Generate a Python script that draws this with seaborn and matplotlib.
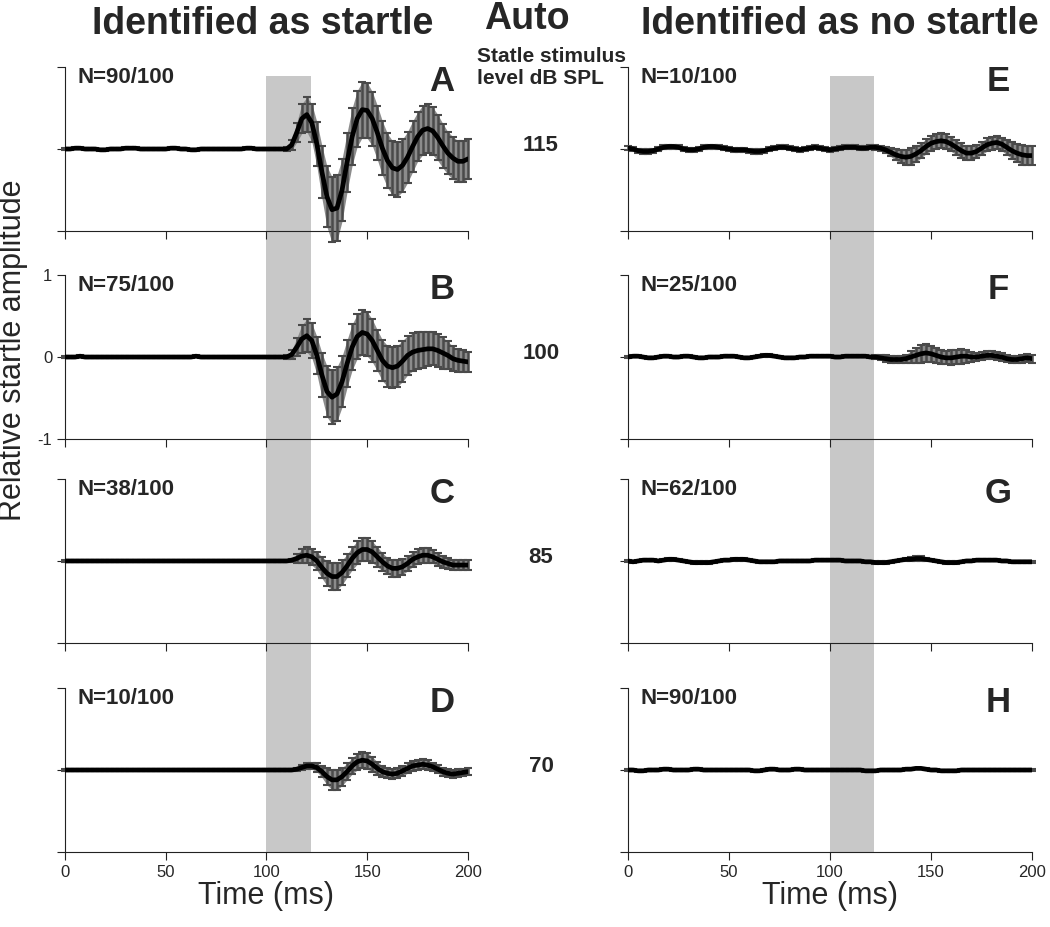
import numpy as np
import matplotlib.pyplot as plt
import matplotlib.transforms as mtransforms
import seaborn as sns

# sampling grid of the averaged traces (ms)
time_ms = np.arange(0, 201, 2.5)

x_ticks = [0, 50, 100, 150, 200]
y_ticks = [-1, 0, 1]
stim_start, stim_end = 100, 122

letters_left = ['A', 'B', 'C', 'D']
letters_right = ['E', 'F', 'G', 'H']
n_left = ['N=90/100', 'N=75/100', 'N=38/100', 'N=10/100']
n_right = ['N=10/100', 'N=25/100', 'N=62/100', 'N=90/100']
levels_db = ['115', '100', '85', '70']

# ---- identified as startle (mean, SE) ----
mean_A = [0.00, 0.00, 0.01, 0.01, 0.00, 0.00, 0.00, -0.01, -0.01, 0.00,
          0.00, 0.00, 0.01, 0.01, 0.01, 0.00, 0.00, 0.00, 0.00, 0.00,
          0.00, 0.01, 0.01, 0.00, 0.00, -0.01, -0.01, 0.00, 0.00, 0.00,
          0.00, 0.00, 0.00, 0.00, 0.00, 0.00, 0.01, 0.01, 0.00, 0.00,
          0.00, 0.00, 0.00, 0.00, 0.00, 0.05, 0.20, 0.37, 0.42, 0.32,
          0.06, -0.28, -0.58, -0.74, -0.72, -0.50, -0.16, 0.15, 0.37, 0.48,
          0.47, 0.37, 0.20, 0.01, -0.14, -0.23, -0.25, -0.20, -0.10, 0.03,
          0.15, 0.23, 0.25, 0.22, 0.14, 0.04, -0.05, -0.11, -0.15, -0.15,
          -0.12]
se_A = [0.01, 0.01, 0.01, 0.01, 0.01, 0.01, 0.01, 0.01, 0.01, 0.01,
        0.01, 0.01, 0.01, 0.01, 0.01, 0.01, 0.01, 0.01, 0.01, 0.01,
        0.01, 0.01, 0.01, 0.01, 0.01, 0.01, 0.01, 0.01, 0.01, 0.01,
        0.01, 0.01, 0.01, 0.01, 0.01, 0.01, 0.01, 0.01, 0.01, 0.01,
        0.01, 0.01, 0.01, 0.01, 0.02, 0.06, 0.12, 0.18, 0.21, 0.23,
        0.27, 0.32, 0.37, 0.40, 0.40, 0.38, 0.36, 0.35, 0.34, 0.34,
        0.34, 0.33, 0.33, 0.33, 0.33, 0.33, 0.33, 0.32, 0.31, 0.31,
        0.30, 0.30, 0.30, 0.29, 0.28, 0.27, 0.26, 0.26, 0.25, 0.25,
        0.24]

mean_B = [0.00, 0.00, 0.00, 0.01, 0.00, 0.00, 0.00, 0.00, 0.00, 0.00,
          0.00, 0.00, 0.00, 0.00, 0.00, 0.00, 0.00, 0.00, 0.00, 0.00,
          0.00, 0.00, 0.00, 0.00, 0.00, 0.00, 0.01, 0.00, 0.00, 0.00,
          0.00, 0.00, 0.00, 0.00, 0.00, 0.00, 0.00, 0.00, 0.00, 0.00,
          0.00, 0.00, 0.00, 0.00, 0.00, 0.03, 0.12, 0.22, 0.26, 0.20,
          0.02, -0.22, -0.42, -0.49, -0.45, -0.30, -0.08, 0.12, 0.25, 0.30,
          0.28, 0.20, 0.08, -0.04, -0.11, -0.13, -0.11, -0.05, 0.02, 0.06,
          0.08, 0.09, 0.10, 0.10, 0.08, 0.05, 0.02, -0.02, -0.04, -0.05,
          -0.06]
se_B = [0.01, 0.01, 0.01, 0.01, 0.01, 0.01, 0.01, 0.01, 0.01, 0.01,
        0.01, 0.01, 0.01, 0.01, 0.01, 0.01, 0.01, 0.01, 0.01, 0.01,
        0.01, 0.01, 0.01, 0.01, 0.01, 0.01, 0.01, 0.01, 0.01, 0.01,
        0.01, 0.01, 0.01, 0.01, 0.01, 0.01, 0.01, 0.01, 0.01, 0.01,
        0.01, 0.01, 0.01, 0.01, 0.02, 0.05, 0.11, 0.17, 0.20, 0.21,
        0.23, 0.27, 0.31, 0.33, 0.33, 0.31, 0.29, 0.28, 0.27, 0.27,
        0.27, 0.26, 0.25, 0.25, 0.25, 0.25, 0.25, 0.25, 0.24, 0.23,
        0.22, 0.22, 0.21, 0.20, 0.20, 0.19, 0.17, 0.15, 0.14, 0.13,
        0.12]

mean_C = [0.00, 0.00, 0.00, 0.00, 0.00, 0.00, 0.00, 0.00, 0.00, 0.00,
          0.00, 0.00, 0.00, 0.00, 0.00, 0.00, 0.00, 0.00, 0.00, 0.00,
          0.00, 0.00, 0.00, 0.00, 0.00, 0.00, 0.00, 0.00, 0.00, 0.00,
          0.00, 0.00, 0.00, 0.00, 0.00, 0.00, 0.00, 0.00, 0.00, 0.00,
          0.00, 0.00, 0.00, 0.00, 0.00, 0.01, 0.03, 0.06, 0.07, 0.05,
          0.00, -0.08, -0.15, -0.19, -0.19, -0.14, -0.06, 0.03, 0.10, 0.14,
          0.14, 0.11, 0.05, -0.01, -0.06, -0.09, -0.09, -0.07, -0.03, 0.02,
          0.05, 0.07, 0.07, 0.05, 0.02, -0.01, -0.03, -0.05, -0.05, -0.05,
          -0.05]
se_C = [0.01, 0.01, 0.01, 0.01, 0.01, 0.01, 0.01, 0.01, 0.01, 0.01,
        0.01, 0.01, 0.01, 0.01, 0.01, 0.01, 0.01, 0.01, 0.01, 0.01,
        0.01, 0.01, 0.01, 0.01, 0.01, 0.01, 0.01, 0.01, 0.01, 0.01,
        0.01, 0.01, 0.01, 0.01, 0.01, 0.01, 0.01, 0.01, 0.01, 0.01,
        0.01, 0.01, 0.01, 0.01, 0.01, 0.02, 0.05, 0.08, 0.10, 0.10,
        0.11, 0.13, 0.15, 0.16, 0.16, 0.15, 0.14, 0.14, 0.14, 0.14,
        0.14, 0.13, 0.12, 0.11, 0.10, 0.10, 0.10, 0.10, 0.09, 0.09,
        0.09, 0.09, 0.09, 0.08, 0.08, 0.07, 0.07, 0.06, 0.06, 0.06,
        0.06]

mean_D = [0.00, 0.00, 0.00, 0.00, 0.00, 0.00, 0.00, 0.00, 0.00, 0.00,
          0.00, 0.00, 0.00, 0.00, 0.00, 0.00, 0.00, 0.00, 0.00, 0.00,
          0.00, 0.00, 0.00, 0.00, 0.00, 0.00, 0.00, 0.00, 0.00, 0.00,
          0.00, 0.00, 0.00, 0.00, 0.00, 0.00, 0.00, 0.00, 0.00, 0.00,
          0.00, 0.00, 0.00, 0.00, 0.00, 0.00, 0.01, 0.03, 0.05, 0.05,
          0.03, -0.02, -0.08, -0.12, -0.12, -0.08, -0.02, 0.05, 0.10, 0.12,
          0.11, 0.07, 0.02, -0.02, -0.04, -0.05, -0.04, -0.01, 0.02, 0.05,
          0.06, 0.07, 0.06, 0.04, 0.01, -0.02, -0.04, -0.05, -0.04, -0.03,
          -0.02]
se_D = [0.01, 0.01, 0.01, 0.01, 0.01, 0.01, 0.01, 0.01, 0.01, 0.01,
        0.01, 0.01, 0.01, 0.01, 0.01, 0.01, 0.01, 0.01, 0.01, 0.01,
        0.01, 0.01, 0.01, 0.01, 0.01, 0.01, 0.01, 0.01, 0.01, 0.01,
        0.01, 0.01, 0.01, 0.01, 0.01, 0.01, 0.01, 0.01, 0.01, 0.01,
        0.01, 0.01, 0.01, 0.01, 0.01, 0.01, 0.02, 0.03, 0.04, 0.04,
        0.05, 0.07, 0.10, 0.12, 0.12, 0.11, 0.10, 0.10, 0.10, 0.10,
        0.10, 0.09, 0.08, 0.07, 0.06, 0.06, 0.06, 0.06, 0.06, 0.06,
        0.06, 0.06, 0.06, 0.05, 0.05, 0.05, 0.05, 0.05, 0.05, 0.04,
        0.04]

# ---- identified as no startle (mean, SE) ----
mean_E = [0.01, 0.00, -0.02, -0.03, -0.03, -0.02, 0.00, 0.02, 0.03, 0.03,
          0.02, 0.00, -0.01, -0.01, 0.00, 0.02, 0.03, 0.03, 0.02, 0.01,
          0.00, -0.01, -0.01, -0.01, -0.02, -0.03, -0.03, -0.02, 0.00, 0.01,
          0.02, 0.02, 0.01, 0.00, -0.01, 0.00, 0.01, 0.02, 0.01, 0.00,
          -0.01, 0.00, 0.01, 0.02, 0.02, 0.02, 0.01, 0.01, 0.02, 0.02,
          0.01, -0.01, -0.04, -0.07, -0.09, -0.10, -0.09, -0.06, -0.02, 0.03,
          0.07, 0.09, 0.10, 0.09, 0.06, 0.02, -0.02, -0.05, -0.05, -0.03,
          0.01, 0.05, 0.07, 0.08, 0.06, 0.02, -0.02, -0.05, -0.07, -0.08,
          -0.08]
se_E = [0.025, 0.025, 0.025, 0.025, 0.025, 0.025, 0.025, 0.025, 0.025, 0.025,
        0.025, 0.025, 0.025, 0.025, 0.025, 0.025, 0.025, 0.025, 0.025, 0.025,
        0.025, 0.025, 0.025, 0.025, 0.025, 0.025, 0.025, 0.025, 0.025, 0.025,
        0.025, 0.025, 0.025, 0.025, 0.025, 0.025, 0.025, 0.025, 0.025, 0.025,
        0.025, 0.025, 0.025, 0.025, 0.025, 0.025, 0.025, 0.025, 0.025, 0.03,
        0.03, 0.04, 0.05, 0.07, 0.08, 0.09, 0.10, 0.10, 0.09, 0.09,
        0.09, 0.09, 0.09, 0.09, 0.09, 0.09, 0.09, 0.09, 0.09, 0.08,
        0.08, 0.08, 0.08, 0.08, 0.08, 0.09, 0.10, 0.11, 0.12, 0.12,
        0.12]

mean_F = [0.00, 0.01, 0.01, 0.00, -0.01, -0.01, 0.00, 0.01, 0.01, 0.00,
          0.00, 0.01, 0.01, 0.00, -0.01, -0.01, 0.00, 0.00, 0.00, 0.01,
          0.01, 0.01, 0.00, -0.01, -0.01, 0.00, 0.01, 0.02, 0.02, 0.01,
          0.00, -0.01, -0.01, -0.01, 0.00, 0.00, 0.01, 0.01, 0.01, 0.01,
          0.01, 0.00, 0.00, 0.01, 0.01, 0.01, 0.01, 0.01, 0.00, 0.00,
          -0.01, -0.02, -0.03, -0.03, -0.03, -0.02, 0.00, 0.02, 0.04, 0.05,
          0.04, 0.02, 0.00, -0.01, -0.01, 0.00, 0.01, 0.01, 0.00, 0.00,
          0.01, 0.02, 0.02, 0.01, 0.00, -0.02, -0.03, -0.03, -0.02, -0.01,
          -0.02]
se_F = [0.015, 0.015, 0.015, 0.015, 0.015, 0.015, 0.015, 0.015, 0.015, 0.015,
        0.015, 0.015, 0.015, 0.015, 0.015, 0.015, 0.015, 0.015, 0.015, 0.015,
        0.015, 0.015, 0.015, 0.015, 0.015, 0.015, 0.015, 0.015, 0.015, 0.015,
        0.015, 0.015, 0.015, 0.015, 0.015, 0.015, 0.015, 0.015, 0.015, 0.015,
        0.015, 0.015, 0.015, 0.015, 0.015, 0.015, 0.015, 0.015, 0.015, 0.02,
        0.03, 0.04, 0.04, 0.04, 0.04, 0.05, 0.07, 0.09, 0.11, 0.11,
        0.10, 0.09, 0.08, 0.08, 0.09, 0.09, 0.09, 0.08, 0.06, 0.05,
        0.05, 0.05, 0.05, 0.05, 0.05, 0.04, 0.04, 0.04, 0.05, 0.05,
        0.05]

mean_G = [0.00, -0.01, 0.00, 0.01, 0.01, 0.01, 0.00, 0.01, 0.02, 0.02,
          0.01, 0.00, -0.01, -0.02, -0.02, -0.02, -0.02, -0.01, 0.00, 0.01,
          0.01, 0.02, 0.02, 0.02, 0.01, 0.00, -0.01, -0.01, -0.01, -0.01,
          0.00, 0.00, 0.00, 0.00, 0.00, 0.00, 0.00, 0.01, 0.01, 0.01,
          0.01, 0.01, 0.01, 0.00, 0.00, 0.00, 0.00, -0.01, -0.01, -0.02,
          -0.02, -0.02, -0.01, 0.00, 0.01, 0.02, 0.02, 0.03, 0.03, 0.02,
          0.01, 0.00, -0.01, -0.02, -0.02, -0.02, -0.01, 0.00, 0.00, 0.01,
          0.01, 0.01, 0.01, 0.01, 0.00, 0.00, -0.01, -0.01, -0.01, -0.01,
          -0.01]
se_G = [0.015, 0.015, 0.015, 0.015, 0.015, 0.015, 0.015, 0.015, 0.015, 0.015,
        0.015, 0.015, 0.015, 0.015, 0.015, 0.015, 0.015, 0.015, 0.015, 0.015,
        0.015, 0.015, 0.015, 0.015, 0.015, 0.015, 0.015, 0.015, 0.015, 0.015,
        0.015, 0.015, 0.015, 0.015, 0.015, 0.015, 0.015, 0.015, 0.015, 0.015,
        0.015, 0.015, 0.015, 0.015, 0.015, 0.015, 0.015, 0.015, 0.015, 0.015,
        0.015, 0.015, 0.015, 0.015, 0.015, 0.02, 0.025, 0.025, 0.025, 0.02,
        0.015, 0.015, 0.015, 0.015, 0.015, 0.015, 0.015, 0.015, 0.015, 0.015,
        0.015, 0.015, 0.015, 0.015, 0.015, 0.015, 0.015, 0.015, 0.015, 0.015,
        0.015]

mean_H = [0.00, 0.00, -0.01, -0.01, 0.00, 0.00, 0.00, 0.01, 0.01, 0.00,
          0.00, 0.00, 0.00, 0.01, 0.01, 0.00, 0.00, 0.00, 0.00, 0.00,
          0.00, 0.00, 0.00, 0.00, 0.00, -0.01, -0.01, 0.00, 0.01, 0.01,
          0.00, 0.00, 0.00, 0.01, 0.01, 0.00, 0.00, 0.00, 0.00, 0.00,
          0.00, 0.00, 0.00, 0.00, 0.00, 0.00, 0.00, -0.01, -0.01, -0.01,
          0.00, 0.00, 0.00, 0.00, 0.00, 0.01, 0.01, 0.02, 0.02, 0.01,
          0.00, 0.00, -0.01, -0.01, -0.01, -0.01, 0.00, 0.00, 0.00, 0.00,
          0.00, 0.00, 0.00, 0.00, 0.00, 0.00, 0.00, 0.00, 0.00, 0.00,
          0.00]
se_H = [0.01] * 81

means_left = [mean_A, mean_B, mean_C, mean_D]
ses_left = [se_A, se_B, se_C, se_D]
means_right = [mean_E, mean_F, mean_G, mean_H]
ses_right = [se_E, se_F, se_G, se_H]

sns.set_style('ticks')
plt.rcParams['font.family'] = ['Liberation Sans', 'DejaVu Sans']
plt.rcParams['axes.unicode_minus'] = False

fig = plt.figure(figsize=(10.5, 9.27), dpi=100)

col_x = [0.0619, 0.5981]
col_w = [0.3838, 0.3848]
row_bottom = [0.7508, 0.5264, 0.3064, 0.0809]
row_h = 0.1769

# stimulus window, drawn once per column behind all four panels
for c in range(2):
    bg = fig.add_axes([col_x[c], 0.0809, col_w[c], 0.918 - 0.0809], zorder=0)
    bg.set_xlim(0, 200)
    bg.axvspan(stim_start, stim_end, color='#c8c8c8', lw=0)
    bg.axis('off')


def draw_panel(ax, mean, se, n_label, letter, left_col, row):
    lo = np.array(mean) - np.array(se)
    hi = np.array(mean) + np.array(se)
    ax.fill_between(time_ms, lo, hi, color='#8c8c8c', lw=0, zorder=2, clip_on=False)
    eb = ax.errorbar(time_ms, mean, yerr=se, fmt='none', ecolor='#4a4a4a',
                     elinewidth=1.8, capsize=2.6, capthick=1.5, zorder=3)
    for cap in eb[1]:
        cap.set_color('black')
        cap.set_clip_on(False)
    for bar in eb[2]:
        bar.set_clip_on(False)
    sns.lineplot(x=time_ms, y=mean, ax=ax, color='black', linewidth=3.4, zorder=4)

    ax.set_xlim(0, 200)
    ax.set_ylim(-1, 1)
    ax.set_xticks(x_ticks)
    ax.set_yticks(y_ticks)
    ax.patch.set_alpha(0)
    sns.despine(ax=ax)
    for s in ['left', 'bottom']:
        ax.spines[s].set_linewidth(0.8)
        ax.spines[s].set_color('#222222')
    ax.tick_params(direction='out', length=6, width=0.8, color='#222222',
                   labelsize=12, pad=3,
                   labelbottom=(row == 3),
                   labelleft=(left_col and row == 1))
    if row == 3:
        ax.set_xlabel('Time (ms)', fontsize=22, labelpad=1)

    ax.text(0.032, 0.935, n_label, transform=ax.transAxes, fontsize=16,
            fontweight='bold', ha='left', va='center')
    ax.text(0.935 if left_col else 0.916, 0.91, letter, transform=ax.transAxes,
            fontsize=25, fontweight='bold', ha='center', va='center')


for r in range(4):
    axl = fig.add_axes([col_x[0], row_bottom[r], col_w[0], row_h], zorder=1)
    draw_panel(axl, means_left[r], ses_left[r], n_left[r], letters_left[r], True, r)
    trans = mtransforms.blended_transform_factory(fig.transFigure, axl.transData)
    axl.text(541 / 1050, 0.04, levels_db[r], transform=trans, fontsize=16,
             fontweight='bold', ha='center', va='center')

    axr = fig.add_axes([col_x[1], row_bottom[r], col_w[1], row_h], zorder=1)
    draw_panel(axr, means_right[r], ses_right[r], n_right[r], letters_right[r], False, r)

fig.text(263 / 1050, 1 - 24 / 927, 'Identified as startle', ha='center', va='center',
         fontsize=27, fontweight='bold')
fig.text(527 / 1050, 1 - 19 / 927, 'Auto', ha='center', va='center',
         fontsize=27, fontweight='bold')
fig.text(840 / 1050, 1 - 24 / 927, 'Identified as no startle', ha='center', va='center',
         fontsize=27, fontweight='bold')
fig.text(477 / 1050, 1 - 57 / 927, 'Statle stimulus', ha='left', va='center',
         fontsize=15, fontweight='bold')
fig.text(477 / 1050, 1 - 79 / 927, 'level dB SPL', ha='left', va='center',
         fontsize=15, fontweight='bold')
fig.text(13 / 1050, 1 - 350 / 927, 'Relative startle amplitude', rotation=90,
         ha='center', va='center', fontsize=22)

fig.savefig('out.png', dpi=100)
